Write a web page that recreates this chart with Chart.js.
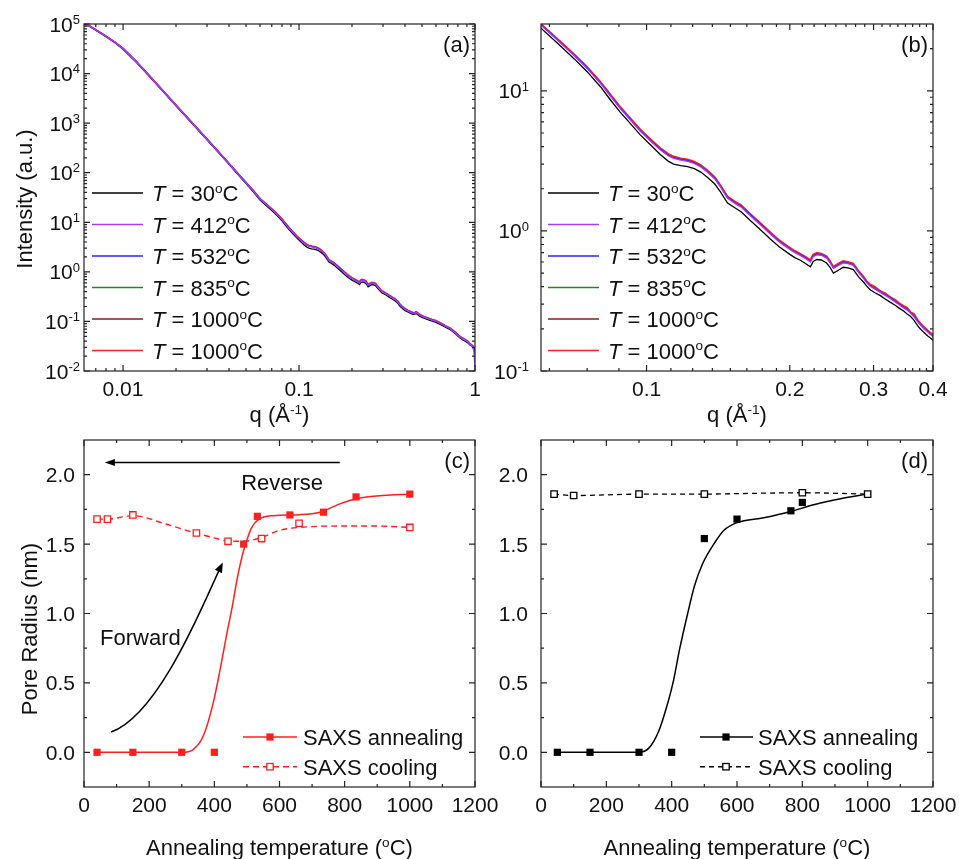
<!DOCTYPE html>
<html>
<head>
<meta charset="utf-8">
<title>SAXS pore radius</title>
<script src="https://cdn.jsdelivr.net/npm/chart.js@4.4.1/dist/chart.umd.min.js"></script>
<style>
  body { margin: 0; background: #fff; }
  #wrap { position: relative; width: 959px; height: 859px; overflow: hidden; }
  canvas { position: absolute; }
</style>
</head>
<body>
<div id="wrap">
  <canvas id="chartA" width="500" height="430" style="left:0;top:0"></canvas>
  <canvas id="chartB" width="479" height="430" style="left:480px;top:0"></canvas>
  <canvas id="chartC" width="510" height="429" style="left:0;top:430px"></canvas>
  <canvas id="chartD" width="479" height="429" style="left:480px;top:430px"></canvas>
</div>
<script>
// ---- panels (a) and (b): SAXS intensity (a.u.) vs q (1/Angstrom) ----
const qValues = [
  0.006, 0.0065, 0.0078, 0.009, 0.01, 0.0118, 0.0143, 0.0165, 0.0194, 0.023,
  0.0275, 0.033, 0.039, 0.045, 0.05, 0.055, 0.06, 0.065, 0.0705, 0.075,
  0.08, 0.084, 0.088, 0.092, 0.097, 0.102, 0.107, 0.111, 0.114, 0.118,
  0.122, 0.126, 0.13, 0.134, 0.139, 0.143, 0.148, 0.153, 0.158, 0.165,
  0.172, 0.182, 0.19, 0.2, 0.205, 0.21, 0.215, 0.221, 0.224, 0.228,
  0.233, 0.239, 0.243, 0.247, 0.252, 0.259, 0.265, 0.272, 0.279, 0.286,
  0.29, 0.295, 0.302, 0.31, 0.318, 0.325, 0.333, 0.34, 0.347, 0.353,
  0.359, 0.365, 0.371, 0.376, 0.383, 0.39, 0.395, 0.401, 0.415, 0.43,
  0.445, 0.455, 0.464, 0.48, 0.5, 0.53, 0.555, 0.577, 0.6, 0.63,
  0.66, 0.687, 0.72, 0.75, 0.785, 0.819, 0.85, 0.88, 0.91, 0.933,
  0.955, 0.97, 0.985, 1.0
];
const int30 = [
  9.8e4, 8.8e4, 5.9e4, 4.2e4, 3.1e4, 1.75e4, 8.35e3, 4.78e3, 2.52e3, 1.3e3,
  648, 317, 164, 92, 60.5, 41.3, 28, 21.9, 16.9, 13.7,
  10.7, 8.6, 7.05, 5.95, 4.85, 4.1, 3.5, 3.15, 3.0, 2.92,
  2.88, 2.78, 2.63, 2.43, 2.17, 1.9, 1.58, 1.47, 1.37, 1.19,
  1.05, 0.875, 0.77, 0.68, 0.645, 0.62, 0.59, 0.555, 0.605, 0.625,
  0.62, 0.59, 0.55, 0.5, 0.52, 0.55, 0.545, 0.53, 0.47, 0.43,
  0.405, 0.38, 0.362, 0.345, 0.325, 0.31, 0.295, 0.28, 0.268, 0.255,
  0.245, 0.23, 0.212, 0.2, 0.188, 0.178, 0.172, 0.165, 0.155, 0.146,
  0.138, 0.142, 0.144, 0.131, 0.121, 0.111, 0.105, 0.1, 0.096, 0.088,
  0.081, 0.075, 0.069, 0.062, 0.054, 0.047, 0.043, 0.04, 0.037, 0.034,
  0.032, 0.03, 0.028, 0.025
];
const int412 = [
  1.0e5, 9.0e4, 6.0e4, 4.3e4, 3.2e4, 1.79e4, 8.55e3, 4.89e3, 2.58e3, 1.33e3,
  665, 325, 168, 95, 62.7, 42.9, 29.4, 23.0, 17.8, 14.45,
  11.3, 9.15, 7.5, 6.32, 5.15, 4.37, 3.78, 3.44, 3.3, 3.2,
  3.14, 3.03, 2.86, 2.64, 2.36, 2.06, 1.71, 1.58, 1.48, 1.29,
  1.135, 0.95, 0.835, 0.738, 0.7, 0.67, 0.64, 0.6, 0.655, 0.675,
  0.67, 0.64, 0.593, 0.54, 0.562, 0.592, 0.585, 0.568, 0.505, 0.457,
  0.428, 0.403, 0.384, 0.364, 0.345, 0.33, 0.311, 0.296, 0.282, 0.272,
  0.258, 0.243, 0.225, 0.214, 0.199, 0.19, 0.182, 0.175, 0.163, 0.153,
  0.146, 0.149, 0.151, 0.138, 0.126, 0.117, 0.11, 0.105, 0.101, 0.092,
  0.085, 0.078, 0.072, 0.064, 0.056, 0.049, 0.045, 0.042, 0.039, 0.035,
  0.033, 0.03, 0.026, 0.012
];
const int532 = [
  1.0e5, 9.0e4, 6.0e4, 4.3e4, 3.2e4, 1.79e4, 8.56e3, 4.9e3, 2.59e3, 1.335e3,
  666, 326, 168.5, 95.3, 63, 43.1, 29.6, 23.2, 17.95, 14.6,
  11.4, 9.25, 7.57, 6.38, 5.2, 4.42, 3.82, 3.48, 3.33, 3.24,
  3.18, 3.06, 2.89, 2.67, 2.39, 2.08, 1.73, 1.6, 1.5, 1.31,
  1.15, 0.96, 0.845, 0.745, 0.707, 0.677, 0.648, 0.607, 0.662, 0.682,
  0.676, 0.647, 0.6, 0.545, 0.568, 0.597, 0.59, 0.574, 0.51, 0.462,
  0.433, 0.407, 0.388, 0.368, 0.349, 0.334, 0.314, 0.3, 0.285, 0.275,
  0.261, 0.246, 0.228, 0.216, 0.201, 0.192, 0.184, 0.177, 0.165, 0.155,
  0.147, 0.15, 0.153, 0.139, 0.128, 0.118, 0.111, 0.106, 0.102, 0.093,
  0.086, 0.079, 0.073, 0.065, 0.057, 0.049, 0.045, 0.042, 0.039, 0.035,
  0.033, 0.031, 0.029, 0.022
];
const int835 = [
  1.0e5, 9.0e4, 6.0e4, 4.3e4, 3.2e4, 1.8e4, 8.6e3, 4.92e3, 2.6e3, 1.34e3,
  669, 327.5, 169.5, 95.8, 63.3, 43.4, 29.8, 23.3, 18.1, 14.7,
  11.55, 9.35, 7.66, 6.46, 5.27, 4.47, 3.87, 3.52, 3.37, 3.27,
  3.21, 3.09, 2.92, 2.7, 2.41, 2.1, 1.75, 1.62, 1.52, 1.32,
  1.16, 0.97, 0.855, 0.755, 0.715, 0.685, 0.655, 0.615, 0.672, 0.692,
  0.684, 0.654, 0.605, 0.55, 0.575, 0.604, 0.595, 0.58, 0.515, 0.466,
  0.437, 0.411, 0.392, 0.372, 0.352, 0.337, 0.317, 0.302, 0.288, 0.278,
  0.263, 0.248, 0.23, 0.218, 0.203, 0.193, 0.185, 0.178, 0.166, 0.156,
  0.148, 0.151, 0.154, 0.14, 0.129, 0.119, 0.112, 0.107, 0.103, 0.094,
  0.086, 0.079, 0.073, 0.065, 0.057, 0.049, 0.045, 0.042, 0.039, 0.035,
  0.033, 0.031, 0.029, 0.025
];
const int1000a = [
  1.0e5, 9.0e4, 6.0e4, 4.3e4, 3.2e4, 1.8e4, 8.6e3, 4.91e3, 2.6e3, 1.34e3,
  668, 327, 169, 95.5, 63.2, 43.3, 29.7, 23.25, 18.0, 14.65,
  11.5, 9.3, 7.62, 6.42, 5.24, 4.45, 3.85, 3.5, 3.35, 3.26,
  3.2, 3.08, 2.91, 2.69, 2.4, 2.09, 1.74, 1.61, 1.51, 1.315,
  1.155, 0.965, 0.85, 0.75, 0.71, 0.68, 0.651, 0.611, 0.668, 0.688,
  0.68, 0.65, 0.602, 0.548, 0.572, 0.6, 0.592, 0.577, 0.512, 0.464,
  0.435, 0.409, 0.39, 0.37, 0.35, 0.335, 0.315, 0.301, 0.286, 0.276,
  0.262, 0.247, 0.229, 0.217, 0.202, 0.192, 0.185, 0.178, 0.166, 0.156,
  0.148, 0.151, 0.154, 0.14, 0.128, 0.119, 0.112, 0.106, 0.102, 0.094,
  0.086, 0.079, 0.073, 0.065, 0.057, 0.049, 0.045, 0.042, 0.039, 0.035,
  0.033, 0.031, 0.029, 0.026
];
const int1000b = [
  1.0e5, 9.0e4, 6.0e4, 4.3e4, 3.2e4, 1.8e4, 8.6e3, 4.92e3, 2.6e3, 1.34e3,
  670, 328, 170, 96, 63.5, 43.5, 30, 23.5, 18.2, 14.8,
  11.6, 9.4, 7.7, 6.5, 5.3, 4.5, 3.9, 3.55, 3.4, 3.3,
  3.24, 3.12, 2.95, 2.72, 2.43, 2.12, 1.76, 1.63, 1.53, 1.33,
  1.17, 0.98, 0.86, 0.76, 0.72, 0.69, 0.66, 0.62, 0.68, 0.7,
  0.69, 0.66, 0.61, 0.555, 0.58, 0.61, 0.6, 0.585, 0.52, 0.47,
  0.44, 0.415, 0.4, 0.372, 0.358, 0.338, 0.322, 0.305, 0.292, 0.283,
  0.262, 0.255, 0.233, 0.22, 0.206, 0.195, 0.188, 0.18, 0.168, 0.158,
  0.15, 0.153, 0.156, 0.142, 0.13, 0.12, 0.113, 0.108, 0.104, 0.095,
  0.087, 0.08, 0.074, 0.066, 0.058, 0.05, 0.046, 0.043, 0.04, 0.036,
  0.034, 0.032, 0.03, 0.027
];
const curveTemps = ['30', '412', '532', '835', '1000', '1000'];
const curveColors = ['#000000', '#a63cff', '#2626ff', '#1b8a1b', '#861c1c', '#ff1f1f'];

// ---- panel (c): pore radius (nm) vs annealing temperature (C) ----
const cAnnealT = [40, 150, 300, 400, 490, 532, 632, 735, 835, 1000];
const cAnnealR = [0, 0, 0, 0, 1.50, 1.70, 1.71, 1.73, 1.84, 1.86];
const cCoolT = [40, 72, 150, 345, 442, 545, 660, 1000];
const cCoolR = [1.68, 1.68, 1.71, 1.58, 1.52, 1.54, 1.65, 1.62];
const cAnnealFitT = [40, 150, 300, 335, 366, 397, 418, 438, 455, 470, 486, 500, 515, 535, 581, 662, 724, 785, 846, 918, 1000];
const cAnnealFitR = [0, 0, 0, 0.02, 0.117, 0.36, 0.6, 0.85, 1.05, 1.25, 1.42, 1.53, 1.62, 1.676, 1.705, 1.712, 1.729, 1.79, 1.832, 1.851, 1.86];
const cCoolFitT = [40, 72, 150, 250, 345, 400, 442, 490, 545, 601, 662, 785, 900, 1000];
const cCoolFitR = [1.68, 1.68, 1.705, 1.645, 1.578, 1.545, 1.522, 1.52, 1.548, 1.6, 1.62, 1.63, 1.63, 1.62];

// ---- panel (d) ----
const dAnnealT = [50, 150, 300, 400, 500, 600, 765, 800];
const dAnnealR = [0, 0, 0, 0, 1.54, 1.68, 1.74, 1.80];
const dCoolT = [40, 100, 300, 500, 800, 1000];
const dCoolR = [1.86, 1.85, 1.86, 1.86, 1.87, 1.86];
const dAnnealFitT = [50, 150, 300, 330, 360, 385, 404, 425, 449, 470, 495, 529, 560, 600, 682, 765, 835, 917, 1000];
const dAnnealFitR = [0, 0, 0, 0.03, 0.15, 0.33, 0.5, 0.75, 1.0, 1.2, 1.36, 1.5, 1.6, 1.655, 1.69, 1.735, 1.784, 1.827, 1.86];

// ---- tick labels ----
const aXTicks = [0.01, 0.1, 1];
const aXTickText = ['0.01', '0.1', '1'];
const aYTicks = [1e-2, 1e-1, 1e0, 1e1, 1e2, 1e3, 1e4, 1e5];
const aYTickExp = ['-2', '-1', '0', '1', '2', '3', '4', '5'];
const bXTicks = [0.1, 0.2, 0.3, 0.4];
const bXTickText = ['0.1', '0.2', '0.3', '0.4'];
const bYTicks = [0.1, 1, 10];
const bYTickExp = ['-1', '0', '1'];
const tempTicks = [0, 200, 400, 600, 800, 1000, 1200];
const tempTickText = ['0', '200', '400', '600', '800', '1000', '1200'];
const radTicks = [0, 0.5, 1, 1.5, 2];
const radTickText = ['0.0', '0.5', '1.0', '1.5', '2.0'];

const FONT = '"Liberation Sans", Arial, Helvetica, sans-serif';
function font(size, italic) { return (italic ? 'italic ' : '') + size + 'px ' + FONT; }

// parts: [[text, kind]] kind '' normal, 'i' italic, 's' superscript
function drawRich(ctx, parts, x, y, size, align) {
    const widths = [];
    let total = 0;
    parts.forEach(p => {
        ctx.font = font(p[1] === 's' ? size * 0.62 : size, p[1] === 'i');
        const w = ctx.measureText(p[0]).width;
        widths.push(w);
        total += w;
    });
    let cx = align === 'center' ? x - total / 2 : (align === 'right' ? x - total : x);
    ctx.textAlign = 'left';
    ctx.textBaseline = 'alphabetic';
    parts.forEach((p, i) => {
        const sup = p[1] === 's';
        ctx.font = font(sup ? size * 0.62 : size, p[1] === 'i');
        ctx.fillText(p[0], cx, sup ? y - size * 0.37 : y);
        cx += widths[i];
    });
}

function logMinor(min, max) {
    const out = [];
    for (let k = Math.floor(Math.log10(min)); k <= Math.ceil(Math.log10(max)); k++) {
        for (let m = 2; m <= 9; m++) {
            const v = m * Math.pow(10, k);
            if (v > min * 1.0001 && v < max * 0.9999) out.push(v);
        }
    }
    return out;
}
function stepMinor(start, end, step, majors) {
    const out = [];
    for (let v = start; v < end + step / 2; v += step) {
        if (!majors.some(m => Math.abs(m - v) < step / 100)) out.push(v);
    }
    return out;
}

function drawSquare(ctx, x, y, filled, color) {
    ctx.save();
    ctx.setLineDash([]);
    if (filled) {
        ctx.fillStyle = color;
        ctx.fillRect(x - 3.6, y - 3.6, 7.2, 7.2);
    } else {
        ctx.fillStyle = '#fff';
        ctx.strokeStyle = color;
        ctx.lineWidth = 1.3;
        ctx.fillRect(x - 3.2, y - 3.2, 6.4, 6.4);
        ctx.strokeRect(x - 3.2, y - 3.2, 6.4, 6.4);
    }
    ctx.restore();
}

// axis box, inward ticks on all sides, labels, titles, legend
function makeFrame(cfg) {
    return {
        id: 'frame',
        afterDraw(chart) {
            const ctx = chart.ctx, a = chart.chartArea;
            const xs = chart.scales.x, ys = chart.scales.y;
            ctx.save();
            ctx.strokeStyle = '#222';
            ctx.lineWidth = 1.2;
            ctx.strokeRect(a.left, a.top, a.right - a.left, a.bottom - a.top);

            ctx.beginPath();
            const tickX = (vals, len) => vals.forEach(v => {
                const px = xs.getPixelForValue(v);
                ctx.moveTo(px, a.bottom); ctx.lineTo(px, a.bottom - len);
                ctx.moveTo(px, a.top); ctx.lineTo(px, a.top + len);
            });
            const tickY = (vals, len) => vals.forEach(v => {
                const py = ys.getPixelForValue(v);
                ctx.moveTo(a.left, py); ctx.lineTo(a.left + len, py);
                ctx.moveTo(a.right, py); ctx.lineTo(a.right - len, py);
            });
            tickX(cfg.xMajor, 6); tickX(cfg.xMinor, 3);
            tickY(cfg.yMajor, 6); tickY(cfg.yMinor, 3);
            ctx.stroke();

            ctx.fillStyle = '#111';
            cfg.xMajor.forEach((v, i) => {
                drawRich(ctx, cfg.xLabels[i], xs.getPixelForValue(v), a.bottom + 24.5, 21, 'center');
            });
            cfg.yMajor.forEach((v, i) => {
                drawRich(ctx, cfg.yLabels[i], a.left - cfg.yGap, ys.getPixelForValue(v) + 7.5, 21, 'right');
            });

            drawRich(ctx, cfg.xTitle, (a.left + a.right) / 2, a.bottom + cfg.xTitleDy, 22, 'center');
            if (cfg.yTitle) {
                ctx.save();
                ctx.translate(cfg.yTitleX, cfg.yTitleY);
                ctx.rotate(-Math.PI / 2);
                drawRich(ctx, cfg.yTitle, 0, 0, 22, 'center');
                ctx.restore();
            }
            drawRich(ctx, [[cfg.tag, '']], a.right - 5, a.top + 28, 22, 'right');

            const lg = cfg.legend;
            lg.rows.forEach((row, i) => {
                const y = a.top + lg.y0 + i * lg.dy;
                ctx.save();
                ctx.strokeStyle = row.color;
                ctx.lineWidth = 1.5;
                ctx.setLineDash(row.dash || []);
                ctx.beginPath();
                ctx.moveTo(a.left + lg.x0, y);
                ctx.lineTo(a.left + lg.x1, y);
                ctx.stroke();
                ctx.restore();
                if (row.marker) drawSquare(ctx, a.left + lg.mx, y, row.marker === 'fill', row.color);
                ctx.fillStyle = '#111';
                drawRich(ctx, row.parts, a.left + lg.tx, y + 8, 22, 'left');
            });
            if (cfg.extra) cfg.extra(chart, ctx);
            ctx.restore();
        }
    };
}

function arrowHead(ctx, tipX, tipY, dirX, dirY, len, half) {
    const n = Math.hypot(dirX, dirY), ux = dirX / n, uy = dirY / n;
    ctx.beginPath();
    ctx.moveTo(tipX, tipY);
    ctx.lineTo(tipX - ux * len - uy * half, tipY - uy * len + ux * half);
    ctx.lineTo(tipX - ux * len + uy * half, tipY - uy * len - ux * half);
    ctx.closePath();
    ctx.fill();
}

// annotations of panel (c), placed in data units
const reverseArrow = { from: [785, 2.088], to: [64, 2.088], text: [608, 1.95] };
const forwardArrow = { p0: [83, 0.146], c1: [233, 0.273], c2: [371, 1.10], p3: [426, 1.367], text: [173, 0.83] };
function drawNotes(chart, ctx) {
    const xs = chart.scales.x, ys = chart.scales.y;
    const P = p => [xs.getPixelForValue(p[0]), ys.getPixelForValue(p[1])];
    ctx.strokeStyle = '#000';
    ctx.fillStyle = '#000';
    ctx.lineWidth = 1.5;
    const f = P(reverseArrow.from), t = P(reverseArrow.to);
    ctx.beginPath(); ctx.moveTo(f[0], f[1]); ctx.lineTo(t[0] + 6, t[1]); ctx.stroke();
    arrowHead(ctx, t[0], t[1], t[0] - f[0], 0, 10, 3.5);
    const p0 = P(forwardArrow.p0), c1 = P(forwardArrow.c1), c2 = P(forwardArrow.c2), p3 = P(forwardArrow.p3);
    ctx.beginPath(); ctx.moveTo(p0[0], p0[1]); ctx.bezierCurveTo(c1[0], c1[1], c2[0], c2[1], p3[0] - 2, p3[1] + 4); ctx.stroke();
    arrowHead(ctx, p3[0], p3[1], p3[0] - c2[0], p3[1] - c2[1], 10, 4);
    const rt = P(reverseArrow.text), ft = P(forwardArrow.text);
    ctx.fillStyle = '#111';
    drawRich(ctx, [['Reverse', '']], rt[0], rt[1] + 8, 22, 'center');
    drawRich(ctx, [['Forward', '']], ft[0], ft[1] + 8, 22, 'center');
}

function tempLegendRows() {
    return curveColors.map((c, i) => ({ color: c, parts: [['T', 'i'], [' = ' + curveTemps[i], ''], ['o', 's'], ['C', '']] }));
}

function saxsSet(vals, color, width, order) {
    return {
        data: qValues.map((q, i) => ({ x: q, y: vals[i] })),
        borderColor: color, borderWidth: width, pointRadius: 0, tension: 0, fill: false, order
    };
}
function xySet(xv, yv, extra) {
    return Object.assign({ data: xv.map((x, i) => ({ x, y: yv[i] })), fill: false }, extra);
}

const baseOptions = (padding, xScale, yScale) => ({
    responsive: false,
    animation: false,
    devicePixelRatio: 1,
    events: [],
    layout: { padding },
    plugins: { legend: { display: false }, tooltip: { enabled: false } },
    scales: { x: Object.assign({ display: false }, xScale), y: Object.assign({ display: false }, yScale) }
});

// purple sits on top, red peeks out just above it
const saxsDatasets = () => [
    saxsSet(int30, curveColors[0], 1.3, 5),
    saxsSet(int412, curveColors[1], 1.3, 0),
    saxsSet(int532, curveColors[2], 1.3, 1),
    saxsSet(int835, curveColors[3], 1.3, 4),
    saxsSet(int1000a, curveColors[4], 1.3, 3),
    saxsSet(int1000b, curveColors[5], 1.8, 2)
];
const qTitle = [['q (Å', ''], ['-1', 's'], [')', '']];
const tempTitle = [['Annealing temperature (', ''], ['o', 's'], ['C)', '']];

// (a)
new Chart(document.getElementById('chartA'), {
    type: 'line',
    data: { datasets: saxsDatasets() },
    options: baseOptions({ left: 84, top: 24, right: 25, bottom: 59 },
        { type: 'logarithmic', min: 0.006, max: 1 },
        { type: 'logarithmic', min: 0.01, max: 1e5 }),
    plugins: [makeFrame({
        xMajor: aXTicks, xMinor: logMinor(0.006, 1), xLabels: aXTickText.map(t => [[t, '']]),
        yMajor: aYTicks, yMinor: logMinor(0.01, 1e5), yLabels: aYTickExp.map(e => [['10', ''], [e, 's']]), yGap: 4,
        xTitle: qTitle, xTitleDy: 51,
        yTitle: [['Intensity (a.u.)', '']], yTitleX: 32, yTitleY: 199,
        tag: '(a)',
        legend: { x0: 8, x1: 59, tx: 68, y0: 169, dy: 31.5, rows: tempLegendRows() }
    })]
});

// (b)
new Chart(document.getElementById('chartB'), {
    type: 'line',
    data: { datasets: saxsDatasets() },
    options: baseOptions({ left: 61, top: 24, right: 26, bottom: 59 },
        { type: 'logarithmic', min: 0.06, max: 0.4 },
        { type: 'logarithmic', min: 0.1, max: 30 }),
    plugins: [makeFrame({
        xMajor: bXTicks, xMinor: stepMinor(0.0625, 0.39, 0.0125, bXTicks), xLabels: bXTickText.map(t => [[t, '']]),
        yMajor: bYTicks, yMinor: logMinor(0.1, 30), yLabels: bYTickExp.map(e => [['10', ''], [e, 's']]), yGap: 12,
        xTitle: qTitle, xTitleDy: 51,
        tag: '(b)',
        legend: { x0: 7, x1: 58, tx: 67, y0: 169, dy: 31.5, rows: tempLegendRows() }
    })]
});

// (c)
new Chart(document.getElementById('chartC'), {
    type: 'line',
    data: {
        datasets: [
            xySet(cAnnealFitT, cAnnealFitR, { borderColor: '#ff1f1f', borderWidth: 1.5, pointRadius: 0, cubicInterpolationMode: 'monotone', order: 2 }),
            xySet(cCoolFitT, cCoolFitR, { borderColor: '#ff1f1f', borderWidth: 1.4, borderDash: [6, 4], pointRadius: 0, cubicInterpolationMode: 'monotone', order: 2 }),
            xySet(cAnnealT, cAnnealR, { showLine: false, pointStyle: 'rect', pointRadius: 5.1, backgroundColor: '#ff1f1f', borderColor: '#ff1f1f', pointBorderWidth: 0, order: 0 }),
            xySet(cCoolT, cCoolR, { showLine: false, pointStyle: 'rect', pointRadius: 4.5, backgroundColor: '#ffffff', borderColor: '#ff1f1f', pointBorderWidth: 1.3, order: 1 })
        ]
    },
    options: baseOptions({ left: 84, top: 10, right: 35, bottom: 72 },
        { type: 'linear', min: 0, max: 1200 },
        { type: 'linear', min: -0.25, max: 2.25 }),
    plugins: [makeFrame({
        xMajor: tempTicks, xMinor: stepMinor(100, 1100, 200, tempTicks), xLabels: tempTickText.map(t => [[t, '']]),
        yMajor: radTicks, yMinor: stepMinor(0.25, 2, 0.5, radTicks), yLabels: radTickText.map(t => [[t, '']]), yGap: 9,
        xTitle: tempTitle, xTitleDy: 68,
        yTitle: [['Pore Radius (nm)', '']], yTitleX: 37, yTitleY: 199,
        tag: '(c)',
        legend: { x0: 159, x1: 213, mx: 186, tx: 219, y0: 297, dy: 29.7, rows: [
            { color: '#ff1f1f', marker: 'fill', parts: [['SAXS annealing', '']] },
            { color: '#ff1f1f', marker: 'open', dash: [6, 4], parts: [['SAXS cooling', '']] }
        ] },
        extra: drawNotes
    })]
});

// (d)
new Chart(document.getElementById('chartD'), {
    type: 'line',
    data: {
        datasets: [
            xySet(dAnnealFitT, dAnnealFitR, { borderColor: '#000', borderWidth: 1.5, pointRadius: 0, cubicInterpolationMode: 'monotone', order: 2 }),
            xySet(dCoolT, dCoolR, { borderColor: '#000', borderWidth: 1.3, borderDash: [5, 4], pointRadius: 0, tension: 0.3, order: 2 }),
            xySet(dAnnealT, dAnnealR, { showLine: false, pointStyle: 'rect', pointRadius: 5.1, backgroundColor: '#000', borderColor: '#000', pointBorderWidth: 0, order: 0 }),
            xySet(dCoolT, dCoolR, { showLine: false, pointStyle: 'rect', pointRadius: 4.5, backgroundColor: '#ffffff', borderColor: '#000', pointBorderWidth: 1.3, order: 1 })
        ]
    },
    options: baseOptions({ left: 61, top: 10, right: 26, bottom: 72 },
        { type: 'linear', min: 0, max: 1200 },
        { type: 'linear', min: -0.25, max: 2.25 }),
    plugins: [makeFrame({
        xMajor: tempTicks, xMinor: stepMinor(100, 1100, 200, tempTicks), xLabels: tempTickText.map(t => [[t, '']]),
        yMajor: radTicks, yMinor: stepMinor(0.25, 2, 0.5, radTicks), yLabels: radTickText.map(t => [[t, '']]), yGap: 13,
        xTitle: tempTitle, xTitleDy: 68,
        tag: '(d)',
        legend: { x0: 159, x1: 212, mx: 185, tx: 217, y0: 297, dy: 29.7, rows: [
            { color: '#000', marker: 'fill', parts: [['SAXS annealing', '']] },
            { color: '#000', marker: 'open', dash: [5, 4], parts: [['SAXS cooling', '']] }
        ] }
    })]
});
</script>
</body>
</html>
